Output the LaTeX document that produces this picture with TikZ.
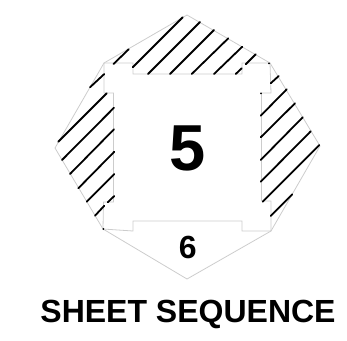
\documentclass[tikz,border=0pt]{standalone}
\usepackage{fontspec}
\setmainfont{Liberation Sans}
\tikzset{rim/.style={draw=black!20, line width=.8pt, line join=miter},
  hatch/.style={line width=1.8pt, line cap=round},
  lbl/.style={font=\bfseries, inner sep=0pt, anchor=base}}

\begin{document}
\begin{tikzpicture}[x=1pt, y=-1pt]
  \useasboundingbox (0,0) rectangle (347,340);
  % outer eight-sided rim, then the stepped inner frame
  \draw[rim] (187,15) -- (270,63) -- (320,146) -- (271,231) -- (187,279) -- (103,229) -- (55,148) -- (104,63) -- cycle;
  \draw[rim] (104,63) -- (104,93) -- (113.5,93) -- (113.5,202) -- (103.5,202) -- (103,229) -- (133,231) -- (133,221)
    -- (242,221) -- (242,231) -- (271,231) -- (271,201) -- (261.5,201) -- (261.5,93) -- (271,93) -- (270,63)
    -- (242,63) -- (242,74) -- (133,74) -- (133,63) -- cycle;
  % hatching, upper band
  \foreach \xa/\ya/\xb/\yb in {182.7/17.3/132.7/67.3, 200/22/148/74, 214/30/170/74, 228.3/38.3/191.7/74,
    242.3/46.7/214/74, 255.7/54.3/245.7/64.3, 241.7/68.3/235.7/74, 128.7/49.3/113.5/64}
    \draw[hatch] (\xa,\ya) -- (\xb,\yb);
  % left band
  \foreach \xa/\ya/\xb/\yb in {104.3/74/90/87.3, 106.7/93.3/58.3/141.7, 114/107.7/62/160, 114/129.3/70/174,
    114.3/151.7/78.3/188.3, 114.3/174/86.7/201.7, 114.3/196/107.7/202.3, 104.3/205.7/95/215.7}
    \draw[hatch] (\xa,\ya) -- (\xb,\yb);
  % right band
  \foreach \xa/\ya/\xb/\yb in {278.7/76/270.7/83.3, 286.7/89.3/260.7/115.7, 295/103.3/260.7/137.3, 302.7/117.3/260.7/160,
    310.7/131.3/260.7/181.7, 319.3/145/262.7/201.7, 292.3/194.3/270.7/216}
    \draw[hatch] (\xa,\ya) -- (\xb,\yb);
  % corner specks
  \foreach \xa/\ya in {269/63.3, 261/93.3, 103.3/229}
    \fill (\xa,\ya) circle (1pt);
  \node[lbl, font=\bfseries\fontsize{65}{65}\selectfont] (sheet) at (187.5,170) {5};
  \node[lbl, font=\bfseries\fontsize{32}{32}\selectfont] (next) at (187.7,258.5) {6};
  \node[lbl, font=\bfseries\fontsize{32}{32}\selectfont] (title) at (188,322.5) {SHEET SEQUENCE};
\end{tikzpicture}
\end{document}
